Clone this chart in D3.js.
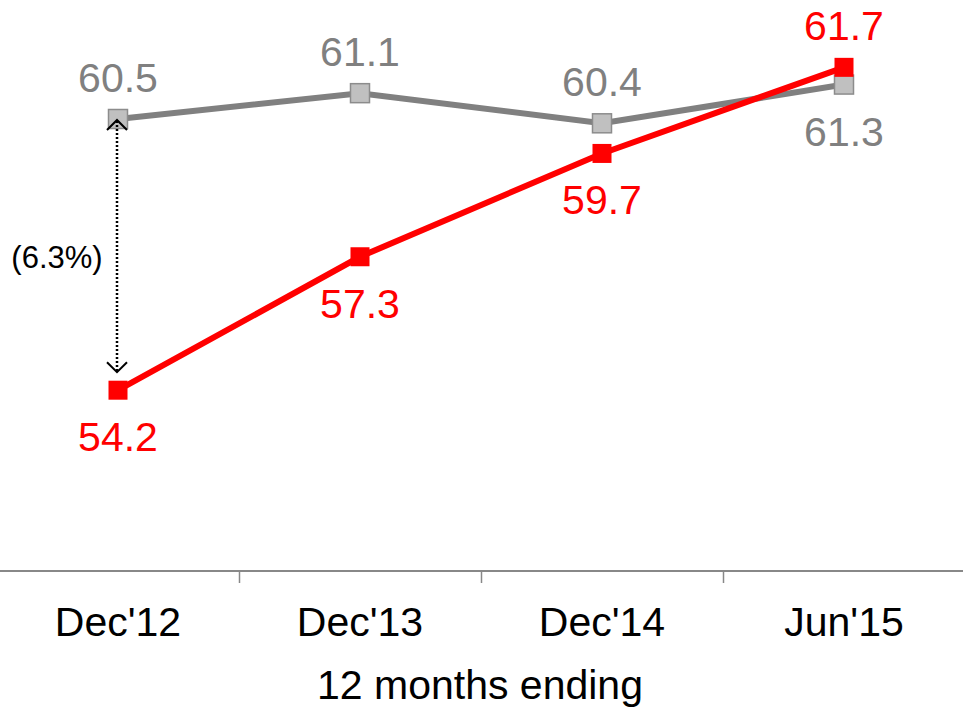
<!DOCTYPE html>
<html>
<head>
<meta charset="utf-8">
<script src="https://cdn.jsdelivr.net/npm/d3@7"></script>
<style>
  html, body { margin: 0; padding: 0; background: #fff; }
  svg { display: block; font-family: Arial, "Liberation Sans", sans-serif; }
</style>
</head>
<body>
<svg id="chart" width="963" height="707"></svg>
<script>
// Periods (12 months ending) and the two series
const categories = ["Dec'12", "Dec'13", "Dec'14", "Jun'15"];
const redValues = [54.2, 57.3, 59.7, 61.7];
const grayValues = [60.5, 61.1, 60.4, 61.3];
// Label placement for each point: true = above the marker
const redLabelAbove = [false, false, false, true];
const grayLabelAbove = [true, true, true, false];
const gapLabel = "(6.3%)";
const axisTitle = "12 months ending";

const svg = d3.select("#chart");
const W = 963, H = 707;

const x = d3.scaleBand().domain(categories).range([-3, 965]).padding(0);
const cx = d => x(d) + x.bandwidth() / 2;
const y = d3.scaleLinear().domain([50, 60.5]).range([571, 119]);

// x axis line with ticks on the band boundaries
const axisG = svg.append("g");
axisG.append("line")
  .attr("x1", 0).attr("x2", W)
  .attr("y1", y(50)).attr("y2", y(50))
  .attr("stroke", "#888").attr("stroke-width", 2);
axisG.selectAll("line.tick")
  .data(categories.slice(1))
  .join("line")
  .attr("class", "tick")
  .attr("x1", d => Math.round(x(d)) + 0.5).attr("x2", d => Math.round(x(d)) + 0.5)
  .attr("y1", y(50)).attr("y2", y(50) + 12)
  .attr("stroke", "#888").attr("stroke-width", 1.5);
axisG.selectAll("text.cat")
  .data(categories)
  .join("text")
  .attr("class", "cat")
  .attr("x", d => cx(d))
  .attr("y", 636)
  .attr("text-anchor", "middle")
  .attr("font-size", 41)
  .attr("fill", "#000")
  .text(d => d);
svg.append("text")
  .attr("x", 480).attr("y", 699)
  .attr("text-anchor", "middle")
  .attr("font-size", 41)
  .attr("fill", "#000")
  .text(axisTitle);

function drawSeries(values, aboveFlags, lineColor, fill, stroke, textColor) {
  const pts = categories.map((c, i) => ({ c, v: values[i], above: aboveFlags[i] }));
  const g = svg.append("g");
  g.append("path")
    .datum(pts)
    .attr("d", d3.line().x(d => cx(d.c)).y(d => y(d.v)))
    .attr("fill", "none")
    .attr("stroke", lineColor)
    .attr("stroke-width", 6);
  g.selectAll("rect")
    .data(pts)
    .join("rect")
    .attr("x", d => cx(d.c) - 9.5)
    .attr("y", d => y(d.v) - 9.5)
    .attr("width", 19).attr("height", 19)
    .attr("fill", fill)
    .attr("stroke", stroke)
    .attr("stroke-width", stroke === "none" ? 0 : 1.5);
  g.selectAll("text")
    .data(pts)
    .join("text")
    .attr("x", d => cx(d.c))
    .attr("y", d => y(d.v) + (d.above ? -27 : 61))
    .attr("text-anchor", "middle")
    .attr("font-size", 41)
    .attr("fill", textColor)
    .text(d => d.v.toFixed(1));
}

drawSeries(grayValues, grayLabelAbove, "#808080", "#c0c0c0", "#8c8c8c", "#808080");
drawSeries(redValues, redLabelAbove, "#ff0000", "#ff0000", "none", "#ff0000");

// Gap annotation between the two series at the first period
const gx = cx(categories[0]) - 1;
const gTop = y(grayValues[0]) + 1;
const gBot = y(redValues[0]) - 18;
const ann = svg.append("g");
ann.append("line")
  .attr("x1", gx).attr("x2", gx)
  .attr("y1", gTop + 1).attr("y2", gBot - 1)
  .attr("stroke", "#000").attr("stroke-width", 2.5)
  .attr("stroke-dasharray", "2,2");
ann.append("path")
  .attr("d", `M${gx - 10},${gTop + 10}L${gx},${gTop}L${gx + 10},${gTop + 10}`)
  .attr("fill", "none").attr("stroke", "#000").attr("stroke-width", 2);
ann.append("path")
  .attr("d", `M${gx - 10},${gBot - 10}L${gx},${gBot}L${gx + 10},${gBot - 10}`)
  .attr("fill", "none").attr("stroke", "#000").attr("stroke-width", 2);
ann.append("text")
  .attr("x", 57).attr("y", 268)
  .attr("text-anchor", "middle")
  .attr("font-size", 31)
  .attr("fill", "#000")
  .text(gapLabel);
</script>
</body>
</html>
